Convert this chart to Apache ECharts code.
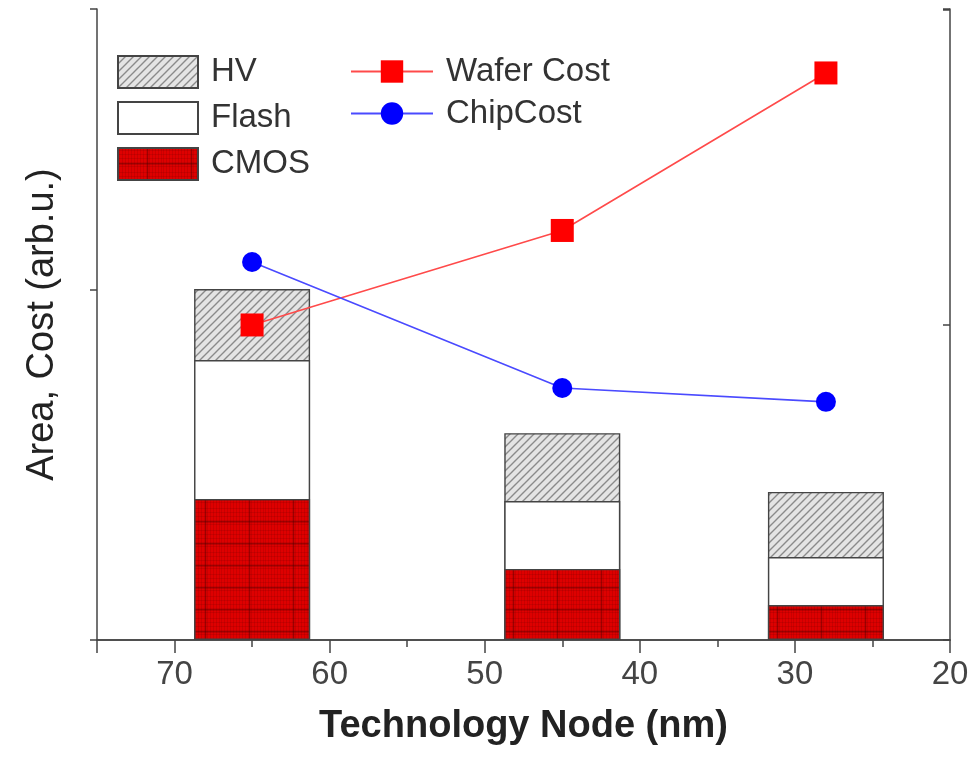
<!DOCTYPE html>
<html>
<head>
<meta charset="utf-8">
<script src="https://cdn.jsdelivr.net/npm/echarts@6/dist/echarts.min.js"></script>
<style>html,body{margin:0;padding:0;background:#fff}#c{width:977px;height:761px}</style>
</head>
<body>
<div id="c"></div>
<script>
// Data
const nodes = [65, 45, 28];               // technology node (nm)
const cmos = [0.403, 0.203, 0.100];       // area, arb.u.
const flash = [0.397, 0.194, 0.137];
const hv = [0.203, 0.194, 0.186];
const waferCost = [1.00, 1.30, 1.80];     // cost, arb.u. (right scale)
const chipCost = [1.20, 0.80, 0.756];
const barNames = ['HV', 'Flash', 'CMOS'];
const lineNames = ['Wafer Cost', 'ChipCost'];

function pair(vals) { return nodes.map((n, i) => [n, vals[i]]); }
// cumulative tops of the stacked parts (bars drawn back to front)
const topCmos = cmos.slice();
const topFlash = cmos.map((v, i) => v + flash[i]);
const topHv = cmos.map((v, i) => v + flash[i] + hv[i]);

function hatchPattern() {
  const c = document.createElement('canvas'); c.width = 8; c.height = 8;
  const g = c.getContext('2d');
  g.fillStyle = '#e4e4e4'; g.fillRect(0, 0, 8, 8);
  g.strokeStyle = '#8a8a8a'; g.lineWidth = 1.4;
  g.beginPath();
  g.moveTo(-2, 10); g.lineTo(10, -2);
  g.moveTo(-2, 2); g.lineTo(2, -2);
  g.moveTo(6, 10); g.lineTo(10, 6);
  g.stroke();
  return c;
}
function plaidPattern() {
  const c = document.createElement('canvas'); c.width = 44; c.height = 22;
  const g = c.getContext('2d');
  g.fillStyle = '#de0000'; g.fillRect(0, 0, 44, 22);
  g.fillStyle = 'rgba(110,0,0,0.18)';
  for (let x = 1; x < 44; x += 3) g.fillRect(x, 0, 1, 22);
  for (let y = 2; y < 22; y += 4) g.fillRect(0, y, 44, 1);
  g.fillStyle = 'rgba(70,0,0,0.42)';
  g.fillRect(29, 0, 1.2, 22);
  g.fillRect(0, 15, 44, 1.5);
  return c;
}

const axisColor = '#444';
const font = '"Liberation Sans", Arial, sans-serif';

const chart = echarts.init(document.getElementById('c'), null, { renderer: 'canvas' });
const barBorder = { borderColor: '#444', borderWidth: 1.4 };
const hatchFill = { image: hatchPattern(), repeat: 'repeat' };
const plaidFill = { image: plaidPattern(), repeat: 'repeat' };
chart.setOption({
  animation: false,
  backgroundColor: '#fff',
  textStyle: { fontFamily: font },
  grid: { left: 97, right: 27, top: 9, bottom: 121 },
  legend: [
    {
      data: barNames.map(n => ({ name: n, icon: 'rect' })), orient: 'vertical', left: 117, top: 55,
      itemWidth: 80, itemHeight: 32, itemGap: 12, padding: 0,
      textStyle: { fontSize: 33, color: '#333', fontFamily: font, padding: [0, 0, 0, 8] },
      selectedMode: false
    },
    {
      data: lineNames, orient: 'vertical', left: 350, top: 55,
      itemWidth: 82, itemHeight: 28, itemGap: 9, padding: 0,
      textStyle: { fontSize: 33, color: '#333', fontFamily: font, padding: [0, 0, 0, 8] },
      selectedMode: false
    }
  ],
  xAxis: [
    {
      type: 'value', min: 20, max: 75, interval: 10, inverse: true, position: 'bottom',
      axisLine: { show: true, lineStyle: { color: axisColor, width: 1.5 } },
      axisTick: { show: true, inside: false, length: 13, lineStyle: { color: axisColor, width: 1.5 } },
      minorTick: { show: true, splitNumber: 2, length: 6, lineStyle: { color: axisColor, width: 1.5 } },
      axisLabel: { show: true, margin: 18, fontSize: 33, color: '#444', fontFamily: font,
        formatter: v => (v === 75 ? '' : String(v)) },
      splitLine: { show: false },
      name: 'Technology Node (nm)', nameLocation: 'middle', nameGap: 68,
      nameTextStyle: { fontSize: 38, fontWeight: 'bold', color: '#222', fontFamily: font }
    },
    {
      type: 'value', min: 20, max: 75, interval: 10, inverse: true, position: 'top',
      axisLine: { show: true, lineStyle: { color: axisColor, width: 1.5 } },
      axisTick: { show: true, inside: true, length: 13, lineStyle: { color: axisColor, width: 1.5 } },
      minorTick: { show: true, splitNumber: 2, length: 7, lineStyle: { color: axisColor, width: 1.5 } },
      axisLabel: { show: false },
      splitLine: { show: false }
    }
  ],
  yAxis: [
    {
      type: 'value', min: 0, max: 1.803, interval: 1, position: 'left',
      axisLine: { show: true, lineStyle: { color: axisColor, width: 1.5 } },
      axisTick: { show: true, inside: false, length: 7, lineStyle: { color: axisColor, width: 1.5 } },
      axisLabel: { show: false },
      splitLine: { show: false },
      name: 'Area, Cost (arb.u.)', nameLocation: 'middle', nameGap: 35, nameRotate: 90,
      nameTextStyle: { fontSize: 38, color: '#222', fontFamily: font }
    },
    {
      type: 'value', min: 0, max: 2.003, interval: 1, position: 'right',
      axisLine: { show: true, lineStyle: { color: axisColor, width: 1.5 } },
      axisTick: { show: true, inside: true, length: 7, lineStyle: { color: axisColor, width: 1.5 } },
      axisLabel: { show: false },
      splitLine: { show: false }
    }
  ],
  series: [
    { name: 'HV', type: 'bar', barGap: '-100%', barWidth: 116, data: pair(topHv), z: 2,
      itemStyle: Object.assign({ color: hatchFill }, barBorder) },
    { name: 'Flash', type: 'bar', barGap: '-100%', barWidth: 116, data: pair(topFlash), z: 2,
      itemStyle: Object.assign({ color: '#ffffff' }, barBorder) },
    { name: 'CMOS', type: 'bar', barGap: '-100%', barWidth: 116, data: pair(topCmos), z: 2,
      itemStyle: Object.assign({ color: plaidFill }, barBorder) },
    { name: 'Wafer Cost', type: 'line', yAxisIndex: 1, data: pair(waferCost),
      symbol: 'rect', symbolSize: 23, z: 5,
      lineStyle: { color: '#ff4a4a', width: 1.6 }, itemStyle: { color: '#ff0000' } },
    { name: 'ChipCost', type: 'line', yAxisIndex: 1, data: pair(chipCost),
      symbol: 'circle', symbolSize: 20, z: 5,
      lineStyle: { color: '#4a4aff', width: 1.6 }, itemStyle: { color: '#0000ff' } }
  ]
});
</script>
</body>
</html>
